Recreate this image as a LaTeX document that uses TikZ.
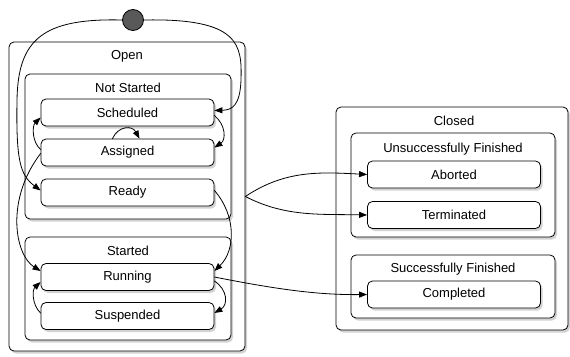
\documentclass[tikz,border=0pt]{standalone}
\usepackage{fontspec}
\setmainfont{Liberation Sans}
\usetikzlibrary{arrows.meta,shadows,calc}

\tikzset{
  box/.style={draw, line width=.8pt, rounded corners=5pt, fill=white,
    drop shadow={opacity=.35, shadow xshift=2pt, shadow yshift=-2.5pt}},
  state/.style={box, minimum width=173pt, minimum height=27pt, inner sep=0pt},
  title/.style={inner sep=0pt},
  tr/.style={line width=.8pt, -{Triangle[length=8pt,width=6pt]}}
}

\begin{document}
\begin{tikzpicture}[x=1pt, y=-1pt, font=\fontsize{13}{15}\selectfont, line join=round, line cap=round]
\useasboundingbox (0,0) rectangle (570,356);

\node[box, minimum width=236pt, minimum height=309pt] (open) at (127,196.5) {};
\node[box, minimum width=206pt, minimum height=145pt] (notstarted) at (128,146.5) {};
\node[box, minimum width=206pt, minimum height=103pt] (started) at (128,288.5) {};
\node[box, minimum width=232pt, minimum height=223pt] (closed) at (452,218.5) {};
\node[box, minimum width=204pt, minimum height=104pt] (unsucc) at (453,185) {};
\node[box, minimum width=204pt, minimum height=63pt] (succ) at (453,286.5) {};

\node[title] (openT) at (127,56) {Open};
\node[title] (notstartedT) at (128,88) {Not Started};
\node[title] (startedT) at (128,251) {Started};
\node[title] (closedT) at (454,121) {Closed};
\node[title] (unsuccT) at (453,149) {Unsuccessfully Finished};
\node[title] (succT) at (453,269) {Successfully Finished};

\foreach \n/\t/\y in {sched/Scheduled/112.5, assigned/Assigned/152.5, ready/Ready/192.5,
    running/Running/277, suspended/Suspended/316}
  \node[state] (\n) at (127.5,\y) {\t};
\foreach \n/\t/\y in {aborted/Aborted/174.5, terminated/Terminated/215, completed/Completed/294.5}
  \node[state] (\n) at (454,\y) {\t};

\node[circle, draw, line width=.8pt, fill=black!65, minimum size=21pt, inner sep=0pt] (init) at (133,20) {};

\draw[tr] (init.east) .. controls (240,18) and (242,45) .. (241,80)
  .. controls (240,106) and (232,110) .. ($(sched.east)+(0,-2)$);
\draw[tr] (init.west) .. controls (42,18) and (18,40) .. (17,100)
  .. controls (16,160) and (20,175) .. ($(ready.west)+(0,-2)$);
\draw[tr] ($(sched.east)+(0,3)$) .. controls (226,125) and (226,140) .. ($(assigned.east)+(0,-5)$);
\draw[tr] ($(assigned.north)+(-15,0)$) .. controls (118,126) and (132,125) .. ($(assigned.north)+(12,0)$);
\draw[tr] ($(assigned.west)+(0,-3)$) .. controls (32,142) and (32,126) .. ($(sched.west)+(0,5)$);
\draw[tr] ($(assigned.west)+(0,1)$) .. controls (5,200) and (15,255) .. ($(running.west)+(0,-6)$);
\draw[tr] ($(ready.east)+(0,-2)$) .. controls (236,215) and (236,250) .. ($(running.east)+(0,-6)$);
\draw[tr] ($(running.east)+(0,4)$) .. controls (228,290) and (228,305) .. ($(suspended.east)+(0,-3)$);
\draw[tr] ($(suspended.west)+(0,-3)$) .. controls (32,305) and (32,290) .. ($(running.west)+(0,5)$);
\draw[tr] (open.east) .. controls (285,170) and (320,172) .. (aborted.west);
\draw[tr] (open.east) .. controls (285,217) and (320,214) .. (terminated.west);
\draw[tr] (running.east) .. controls (280,290) and (320,295) .. (completed.west);
\end{tikzpicture}
\end{document}
